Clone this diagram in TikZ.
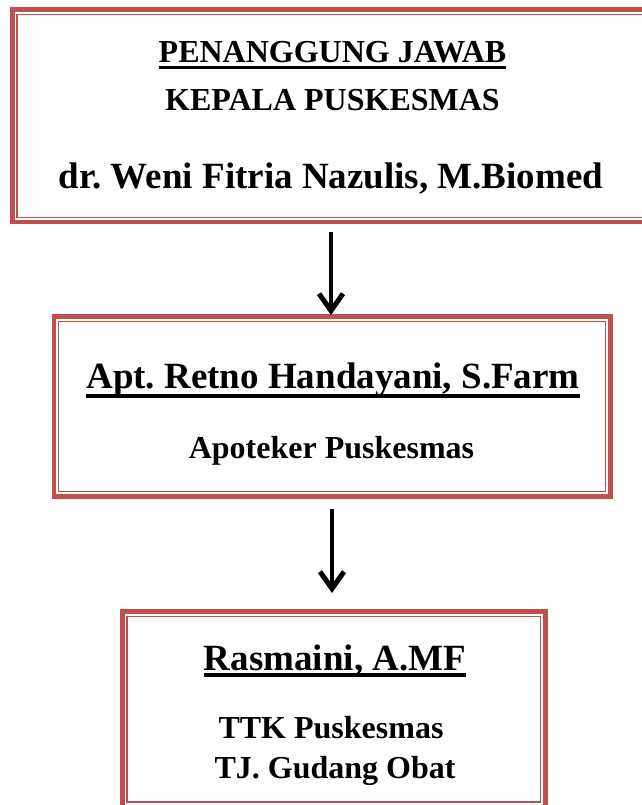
\documentclass[tikz,border=0pt]{standalone}
\usepackage{fontspec}
\setmainfont{Liberation Serif}
\usetikzlibrary{arrows.meta}
\definecolor{boxred}{HTML}{C0504D}
\frenchspacing
\tikzset{
  outerline/.style={draw=boxred, line width=4.8pt},
  innerline/.style={draw=boxred, line width=1.5pt},
  txt/.style={anchor=base, inner sep=0pt, font=\bfseries},
  tsmall/.style={txt, font=\fontsize{32}{38}\selectfont\bfseries},
  tbig/.style={txt, font=\fontsize{37}{44}\selectfont\bfseries},
  uline/.style={draw=black, line width=3.3pt},
  flowarrow/.style={draw=black, line width=4.2pt, -{Straight Barb[length=17pt,width=24pt,line width=5pt]}},
}
\begin{document}
\begin{tikzpicture}[x=1pt,y=-1pt]
\useasboundingbox (0,0) rectangle (641,805);
% box 1
\path[outerline] (12.5,9.7) rectangle (660,222);
\path[innerline] (17.2,14.5) rectangle (655,217.5);
% box 2
\path[outerline] (54,316.5) rectangle (610.5,496.5);
\path[innerline] (58.3,321.5) rectangle (605.5,491.5);
% box 3
\path[outerline] (122.3,611.5) rectangle (545.8,807.5);
\path[innerline] (127.2,616.5) rectangle (540.7,802.2);
% texts
\node[tsmall] (t1) at (332.5,63) {PENANGGUNG JAWAB};
\draw[uline] ([yshift=-4.5pt]t1.base west) -- ([yshift=-4.5pt]t1.base east);
\node[tsmall] (t2) at (332.5,111) {KEPALA PUSKESMAS};
\node[tbig] (t3) at (331,189) {dr. Weni Fitria Nazulis, M.Biomed};
\node[tbig] (t4) at (333,388) {Apt. Retno Handayani, S.Farm};
\draw[uline] ([yshift=-8pt]t4.base west) -- ([yshift=-8pt]t4.base east);
\node[tsmall] (t5) at (331.5,458) {Apoteker Puskesmas};
\node[tbig] (t6) at (335,670) {Rasmaini, A.MF};
\draw[uline] ([yshift=-5pt]t6.base west) -- ([yshift=-5pt]t6.base east);
\node[tsmall] (t7) at (331,738) {TTK Puskesmas};
\node[tsmall] (t8) at (335,778) {TJ. Gudang Obat};
% arrows
\coordinate (a1s) at (331,232);
\coordinate (a1e) at (331,315);
\coordinate (a2s) at (332,509);
\coordinate (a2e) at (332,593);
\draw[flowarrow] (a1s) -- (a1e);
\draw[flowarrow] (a2s) -- (a2e);
\end{tikzpicture}
\end{document}
